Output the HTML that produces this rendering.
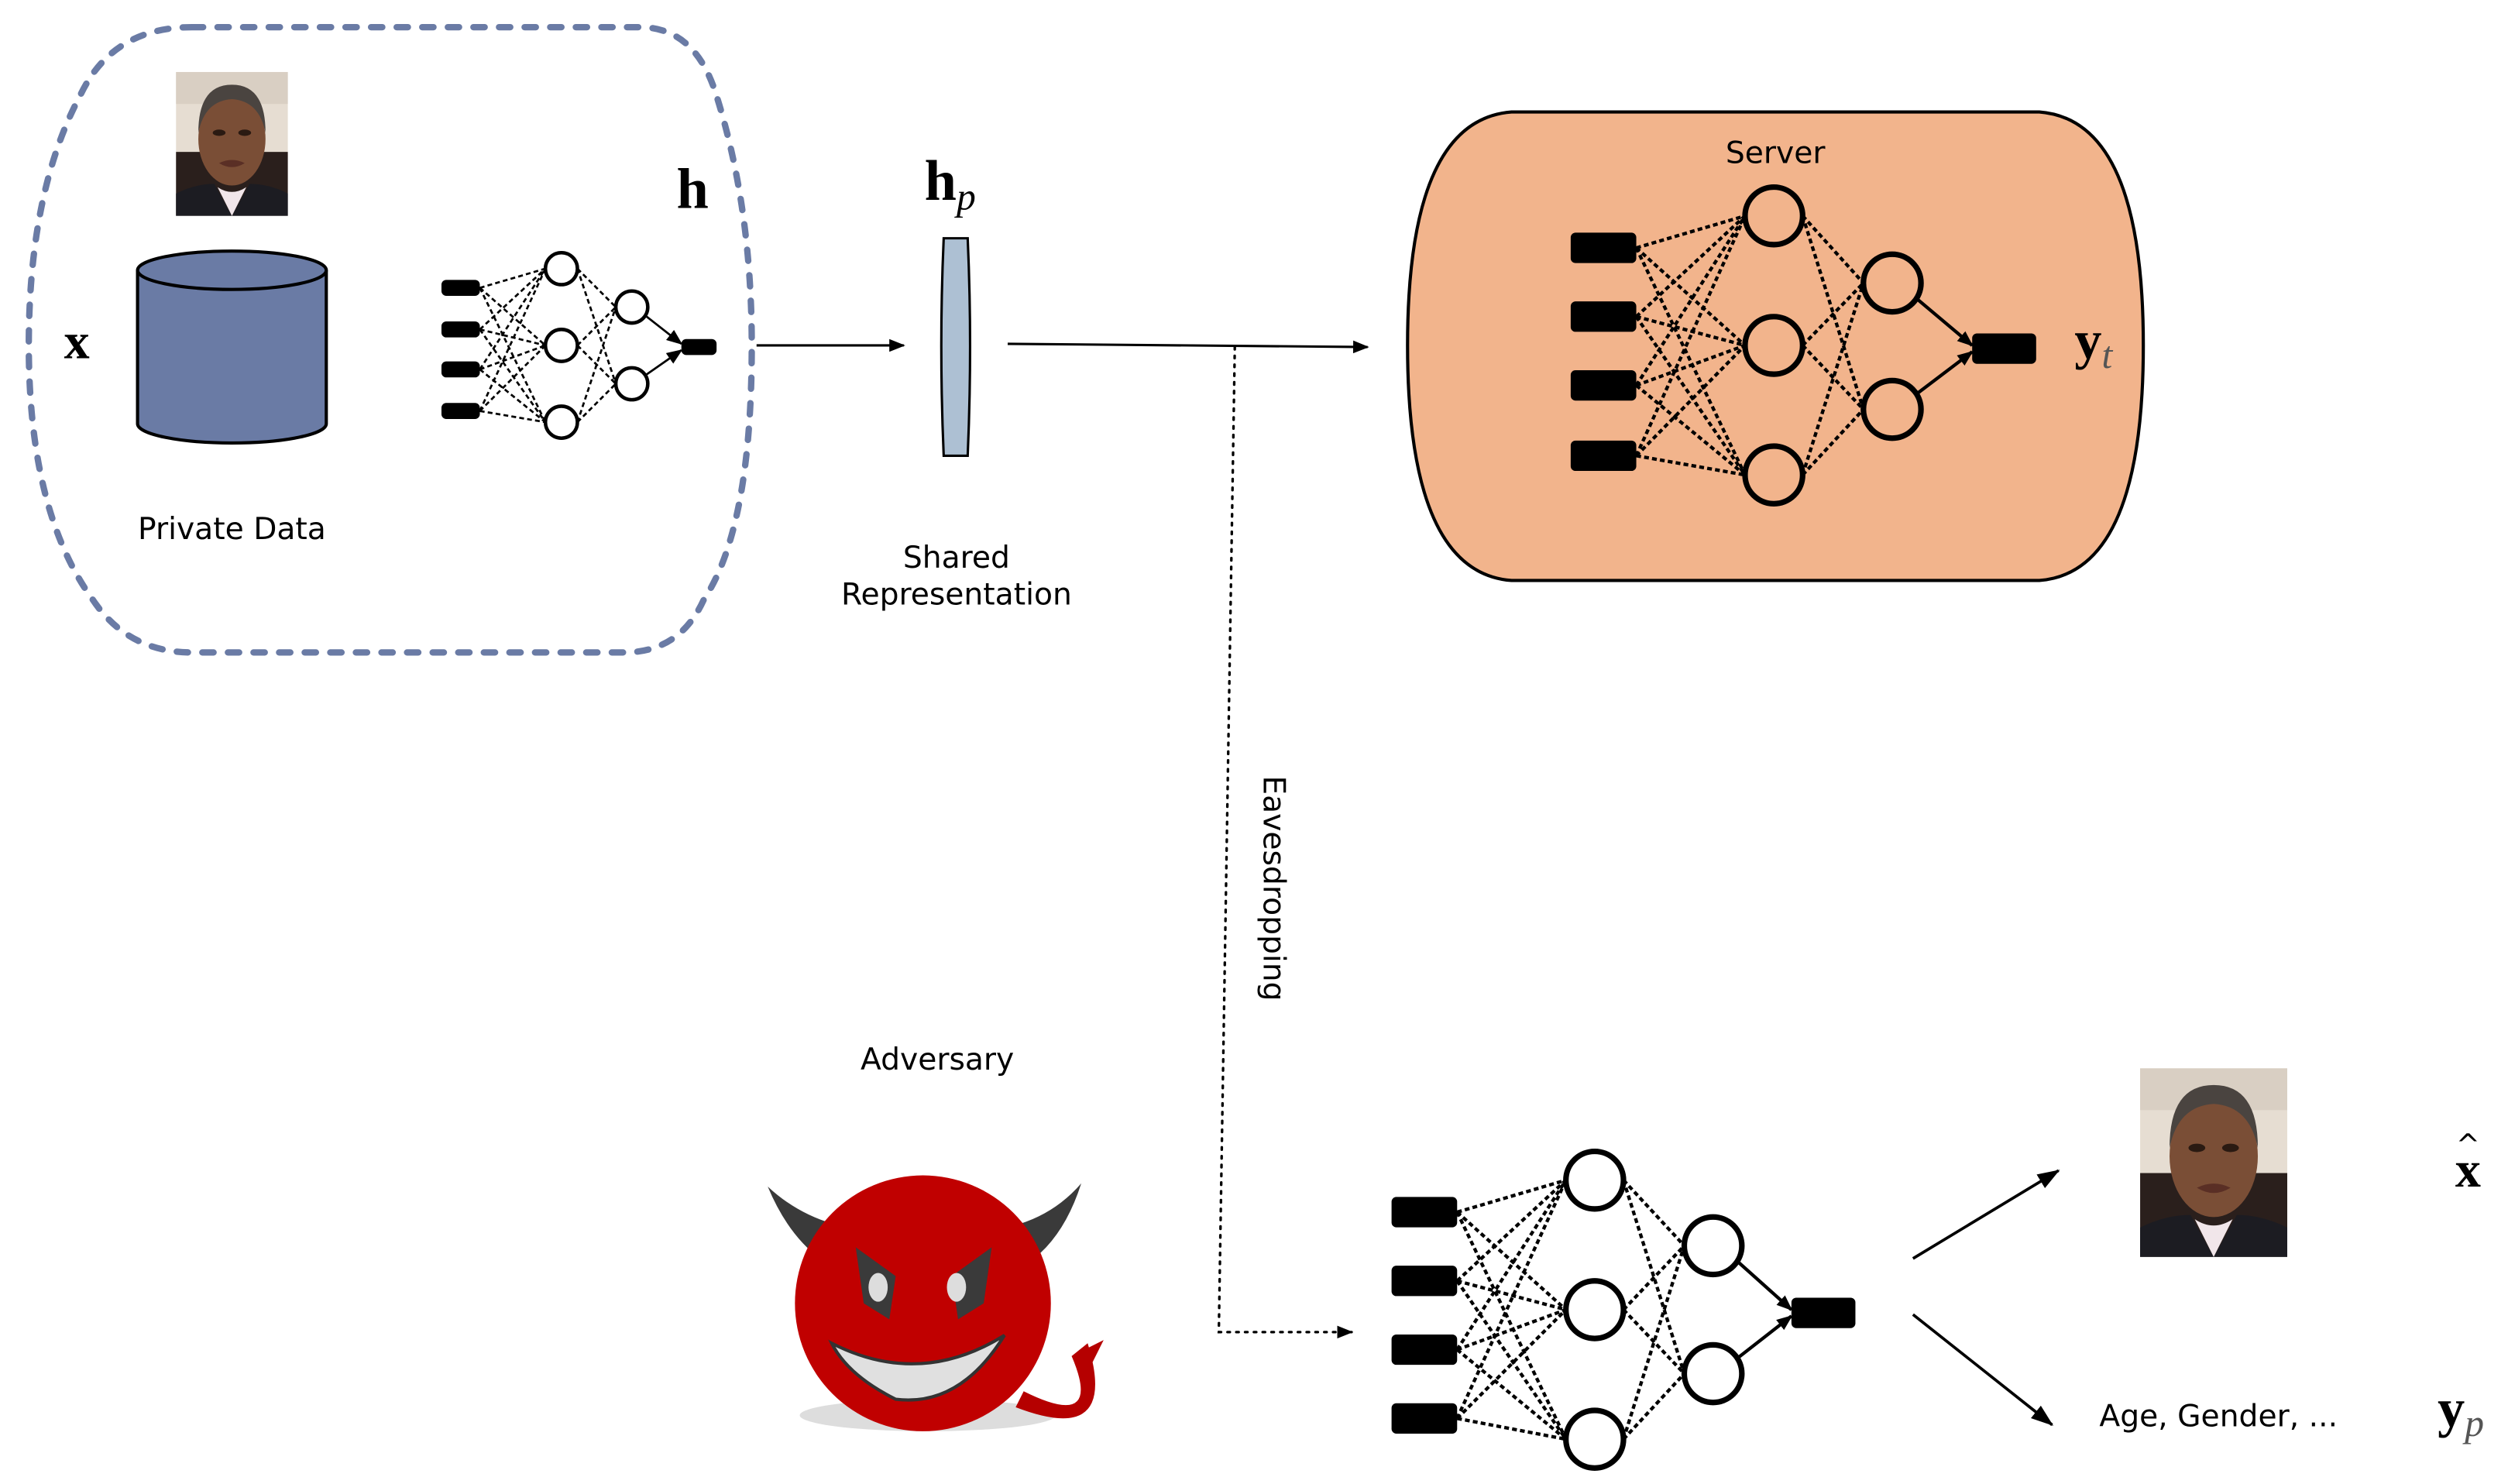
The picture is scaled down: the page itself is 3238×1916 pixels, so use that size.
<!DOCTYPE html>
<html><head><meta charset="utf-8"><style>
html,body{margin:0;padding:0;background:#fff;}
svg{display:block}
text{font-family:"DejaVu Sans","Liberation Sans",sans-serif;}
.m{font-family:"Liberation Serif","DejaVu Serif",serif;font-weight:bold;}
</style></head><body>
<svg id="s" width="3238" height="1916" viewBox="0 0 1568 928" preserveAspectRatio="none" xmlns="http://www.w3.org/2000/svg">
<defs>
<marker id="ar" markerWidth="10" markerHeight="8" refX="9" refY="4" orient="auto" markerUnits="userSpaceOnUse"><path d="M0,0 L10,4 L0,8 z" fill="#000"/></marker>
<marker id="ar2" markerWidth="14" markerHeight="10" refX="13" refY="5" orient="auto" markerUnits="userSpaceOnUse"><path d="M0,0 L14,5 L0,10 z" fill="#000"/></marker>
<symbol id="face" viewBox="0 0 70 90" preserveAspectRatio="none">
<rect width="70" height="90" fill="#e6ddd2"/>
<rect y="50" width="70" height="40" fill="#2a1f1c"/>
<rect y="0" width="70" height="20" fill="#d9cfc3"/>
<ellipse cx="35" cy="42" rx="21" ry="29" fill="#7a4e36"/>
<path d="M14,38 Q14,8 35,8 Q56,8 56,38 Q52,18 35,17 Q18,18 14,38z" fill="#4a4440"/>
<ellipse cx="27" cy="38" rx="4" ry="2" fill="#2a1a12"/><ellipse cx="43" cy="38" rx="4" ry="2" fill="#2a1a12"/>
<path d="M27,57 Q35,53 43,57 Q35,62 27,57z" fill="#5a2f25"/>
<path d="M0,90 L0,76 Q12,70 24,70 L35,90z M70,90 L70,76 Q58,70 46,70 L35,90z" fill="#1c1c22"/>
<path d="M26,72 L35,90 L44,72 Q35,78 26,72z" fill="#f1e6ea"/>
</symbol>
</defs>

<path d="M120,17 L400,17 Q435,17 448,60 Q470,130 470,216 Q470,330 440,375 Q425,408 390,408 L120,408 Q80,408 58,375 Q18,320 18,216 Q18,120 50,60 Q70,17 120,17 Z" fill="none" stroke="#6a7ba5" stroke-width="4" stroke-dasharray="7,9" stroke-linecap="round"/>

<use href="#face" x="110" y="45" width="70" height="90"/>
<path d="M86,169 L86,265 A59,12 0 0 0 204,265 L204,169" fill="#6a7ba5" stroke="#000" stroke-width="2"/>
<ellipse cx="145" cy="169" rx="59" ry="12" fill="#6a7ba5" stroke="#000" stroke-width="2"/>
<text class="m" x="48" y="224" font-size="32" text-anchor="middle">x</text>
<text x="145" y="337" font-size="19" text-anchor="middle">Private Data</text>
<text class="m" x="433" y="130" font-size="36" text-anchor="middle">h</text>

<line x1="473" y1="216" x2="565" y2="216" stroke="#000" stroke-width="1.5" marker-end="url(#ar)"/>
<path d="M590,149 L605,149 Q608,216 605,285 L590,285 Q587,216 590,149Z" fill="#adc0d3" stroke="#000" stroke-width="1.5"/>
<text class="m" x="578" y="125" font-size="36">h<tspan font-style="italic" font-weight="normal" font-size="24" dy="6">p</tspan></text>
<text x="598" y="355" font-size="19" text-anchor="middle">Shared</text>
<text x="598" y="378" font-size="19" text-anchor="middle">Representation</text>

<line x1="630" y1="215" x2="855" y2="217" stroke="#000" stroke-width="1.5" marker-end="url(#ar)"/>

<path d="M945,70 L1275,70 Q1340,75 1340,216 Q1340,358 1275,363 L945,363 Q880,358 880,216 Q880,75 945,70 Z" fill="#f2b48c" stroke="#000" stroke-width="2"/>
<text x="1110" y="102" font-size="19" text-anchor="middle">Server</text>
<text class="m" x="1297" y="224" font-size="34">y<tspan font-style="italic" font-weight="normal" font-size="24" dy="6" fill="#555">t</tspan></text>

<path d="M772,217 L762,833 L845,833" fill="none" stroke="#000" stroke-width="1.6" stroke-dasharray="1.5,4" stroke-linecap="round" marker-end="url(#ar)"/>
<text x="0" y="0" font-size="19" transform="translate(790,485) rotate(90)">Eavesdropping</text>

<text x="586" y="669" font-size="19" text-anchor="middle">Adversary</text>
<ellipse cx="580" cy="885" rx="80" ry="10" fill="#ddd"/>
<path d="M480,742 Q500,790 540,800 L555,770 Q510,770 480,742Z" fill="#3a3a3a"/>
<path d="M676,740 Q660,790 620,800 L605,770 Q650,770 676,740Z" fill="#3a3a3a"/>
<path d="M640,870 Q690,895 670,848 L680,840 Q700,905 635,880Z" fill="#b50000"/>
<path d="M670,848 L690,838 L678,862Z" fill="#b50000"/>
<ellipse cx="577" cy="815" rx="80" ry="80" fill="#c00000"/>
<path d="M535,780 L560,798 L556,825 L540,815Z" fill="#3a3a3a"/>
<path d="M620,780 L595,798 L599,825 L615,815Z" fill="#3a3a3a"/>
<ellipse cx="549" cy="805" rx="6" ry="9" fill="#ddd"/>
<ellipse cx="598" cy="805" rx="6" ry="9" fill="#ddd"/>
<path d="M520,840 Q575,868 628,835 Q600,880 560,875 Q530,860 520,840Z" fill="#e0e0e0" stroke="#333" stroke-width="2"/>

<line x1="1196" y1="787" x2="1287" y2="732" stroke="#000" stroke-width="1.8" marker-end="url(#ar2)"/>
<line x1="1196" y1="822" x2="1283" y2="891" stroke="#000" stroke-width="1.8" marker-end="url(#ar2)"/>
<use href="#face" x="1338" y="668" width="92" height="118"/>
<text class="m" x="1543" y="742" font-size="32" text-anchor="middle">x</text>
<text x="1543" y="722" font-size="18" text-anchor="middle">^</text>
<text x="1387" y="892" font-size="19" text-anchor="middle">Age, Gender, ...</text>
<text class="m" x="1524" y="892" font-size="34">y<tspan font-style="italic" font-weight="normal" font-size="24" dy="6" fill="#555">p</tspan></text>

<g id="nn1"></g><g id="nn2"></g><g id="nn3"></g>
</svg>
<script>
function nn(id,ix,iy,iw,ih,h1x,h1y,h2x,h2y,r,ox,oy,ow,oh,sw){
 var g=document.getElementById(id),s='';
 iy.forEach(function(y){h1y.forEach(function(z){s+='<line x1="'+(ix+iw)+'" y1="'+y+'" x2="'+(h1x-r)+'" y2="'+z+'" stroke="#000" stroke-width="'+(sw*0.6)+'" stroke-dasharray="3,2"/>';});});
 h1y.forEach(function(y){h2y.forEach(function(z){s+='<line x1="'+(h1x+r)+'" y1="'+y+'" x2="'+(h2x-r)+'" y2="'+z+'" stroke="#000" stroke-width="'+(sw*0.6)+'" stroke-dasharray="3,2"/>';});});
 h2y.forEach(function(y){s+='<line x1="'+(h2x+r*0.8)+'" y1="'+(y+(y<oy?r*0.5:-r*0.5))+'" x2="'+(ox)+'" y2="'+(oy+(y<oy?-2:2))+'" stroke="#000" stroke-width="'+sw*0.6+'" marker-end="url(#ar)"/>';});
 iy.forEach(function(y){s+='<rect x="'+ix+'" y="'+(y-ih/2)+'" width="'+iw+'" height="'+ih+'" rx="3" fill="#000"/>';});
 h1y.forEach(function(y){s+='<circle cx="'+h1x+'" cy="'+y+'" r="'+r+'" fill="none" stroke="#000" stroke-width="'+sw+'"/>';});
 h2y.forEach(function(y){s+='<circle cx="'+h2x+'" cy="'+y+'" r="'+r+'" fill="none" stroke="#000" stroke-width="'+sw+'"/>';});
 s+='<rect x="'+ox+'" y="'+(oy-oh/2)+'" width="'+ow+'" height="'+oh+'" rx="3" fill="#000"/>';
 g.innerHTML=s;
}
nn('nn1',276,[180,206,231,257],24,10,351,[168,216,264],395,[192,240],10,426,217,22,10,2.2);
nn('nn2',982,[155,198,241,285],41,19,1109,[135,216,297],1183,[177,256],18,1233,218,40,19,3.5);
nn('nn3',870,[758,801,844,887],41,19,997,[738,819,900],1071,[779,859],18,1120,821,40,19,3.5);
</script>
</body></html>
